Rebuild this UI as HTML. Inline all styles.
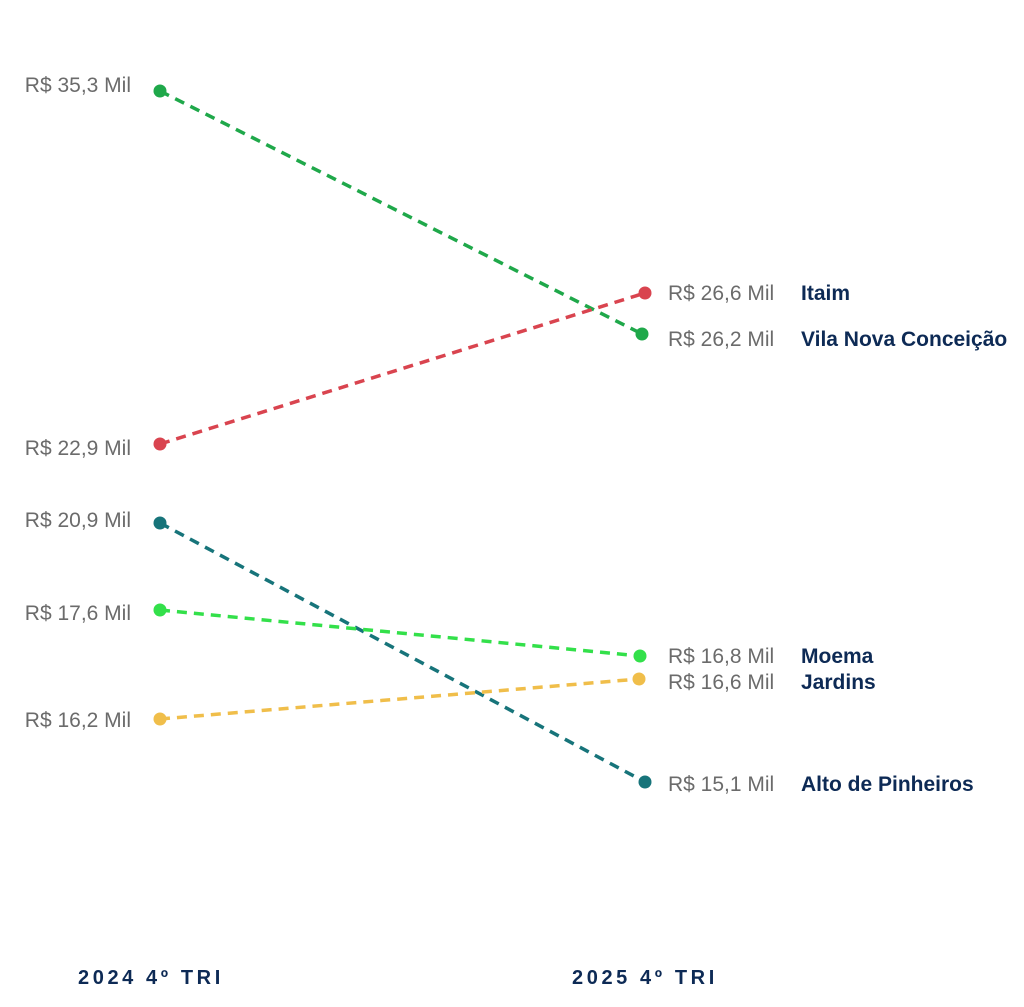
<!DOCTYPE html>
<html><head><meta charset="utf-8"><style>
body{margin:0;background:#fff}
svg{display:block}
.v{font-family:"Liberation Sans",sans-serif;font-size:21px;fill:#6b6b6b}
.n{font-family:"Liberation Sans",sans-serif;font-size:21px;font-weight:bold;fill:#0d2a55}
.t{font-family:"Liberation Sans",sans-serif;font-size:20px;font-weight:bold;fill:#0d2a55;letter-spacing:3.6px}
</style></head><body>
<svg width="1024" height="1007" viewBox="0 0 1024 1007">
<g stroke-width="3.5" stroke-dasharray="10,7" fill="none">
<line x1="160" y1="91" x2="642" y2="334" stroke="#1fa84a"/>
<line x1="160" y1="444" x2="645" y2="293" stroke="#d9444f"/>
<line x1="160" y1="523" x2="645" y2="782" stroke="#17747a"/>
<line x1="160" y1="610" x2="640" y2="656" stroke="#33e04a"/>
<line x1="160" y1="719" x2="639" y2="679" stroke="#f0be4a"/>
</g>
<g>
<circle cx="160" cy="91" r="6.5" fill="#1fa84a"/>
<circle cx="642" cy="334" r="6.5" fill="#1fa84a"/>
<circle cx="160" cy="444" r="6.5" fill="#d9444f"/>
<circle cx="645" cy="293" r="6.5" fill="#d9444f"/>
<circle cx="160" cy="523" r="6.5" fill="#17747a"/>
<circle cx="645" cy="782" r="6.5" fill="#17747a"/>
<circle cx="160" cy="610" r="6.5" fill="#33e04a"/>
<circle cx="640" cy="656" r="6.5" fill="#33e04a"/>
<circle cx="160" cy="719" r="6.5" fill="#f0be4a"/>
<circle cx="639" cy="679" r="6.5" fill="#f0be4a"/>
</g>
<g class="v" text-anchor="end">
<text x="131" y="92">R$ 35,3 Mil</text>
<text x="131" y="455">R$ 22,9 Mil</text>
<text x="131" y="527">R$ 20,9 Mil</text>
<text x="131" y="620">R$ 17,6 Mil</text>
<text x="131" y="727">R$ 16,2 Mil</text>
</g>
<g class="v">
<text x="668" y="300">R$ 26,6 Mil</text>
<text x="668" y="346">R$ 26,2 Mil</text>
<text x="668" y="663">R$ 16,8 Mil</text>
<text x="668" y="689">R$ 16,6 Mil</text>
<text x="668" y="791">R$ 15,1 Mil</text>
</g>
<g class="n">
<text x="801" y="300">Itaim</text>
<text x="801" y="346">Vila Nova Conceição</text>
<text x="801" y="663">Moema</text>
<text x="801" y="689">Jardins</text>
<text x="801" y="791">Alto de Pinheiros</text>
</g>
<text class="t" x="78" y="984">2024 4º TRI</text>
<text class="t" x="572" y="984">2025 4º TRI</text>
</svg>
</body></html>
